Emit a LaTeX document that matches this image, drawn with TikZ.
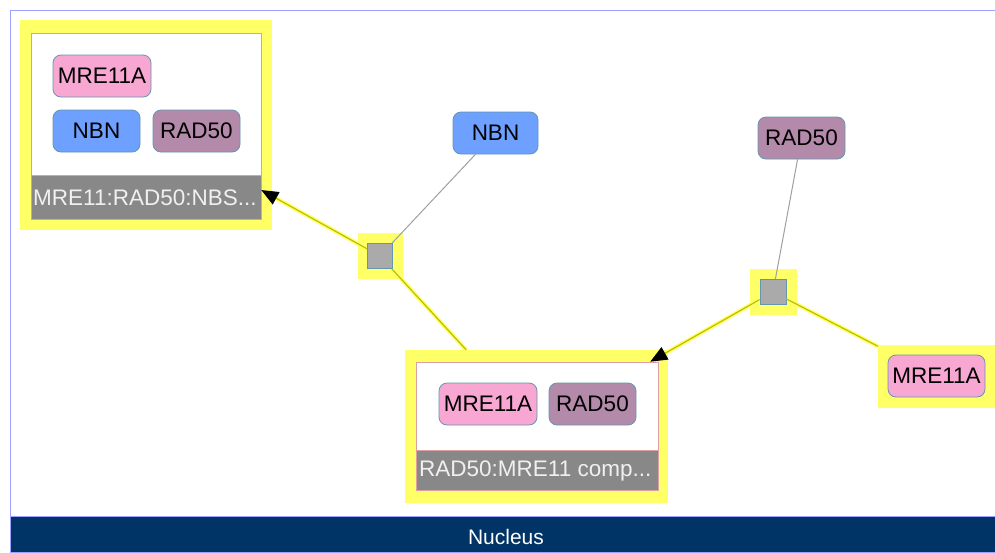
\documentclass[tikz,border=0pt]{standalone}
\usepackage{fontspec}
\setmainfont{Liberation Sans}
\usetikzlibrary{arrows.meta}
\pgfdeclarelayer{bg}
\pgfdeclarelayer{glowl}
\pgfsetlayers{bg,glowl,main}
\definecolor{hl}{RGB}{255,255,102}
\definecolor{olive}{RGB}{190,190,0}
\definecolor{pinkN}{RGB}{248,166,210}
\definecolor{blueN}{RGB}{110,160,255}
\definecolor{purpN}{RGB}{180,138,170}
\definecolor{edgeN}{RGB}{100,150,175}
\definecolor{bandG}{RGB}{136,136,136}
\definecolor{procG}{RGB}{170,170,170}
\definecolor{frameB}{RGB}{160,160,255}
\definecolor{navy}{RGB}{0,51,102}
\definecolor{cplxB}{RGB}{220,160,160}
\definecolor{linkG}{RGB}{160,160,160}
\tikzset{
  x=1pt,y=-1pt,
  prot/.style={draw=edgeN, line width=0.8pt, rounded corners=8pt, minimum height=42pt, inner sep=0pt, font=\fontsize{22.5}{26}\selectfont, text=black},
  hlbox/.style={fill=hl, draw=none, inner sep=0pt},
  cin/.style={fill=white, draw=cplxB, line width=0.6pt, inner sep=0pt},
  band/.style={fill=bandG, draw=cplxB, line width=0.6pt, inner sep=0pt},
  blabel/.style={text=white!94!black, font=\fontsize{22.5}{26}\selectfont, inner sep=0pt, anchor=west},
  proc/.style={fill=procG, draw=edgeN, line width=0.8pt, inner sep=0pt},
  glow/.style={draw=hl, line width=4pt},
  yline/.style={draw=olive, line width=1.2pt},
  gline/.style={draw=linkG, line width=1pt},
  tip/.style={-{Triangle[length=17pt,width=14pt,color=black,fill=black]}}
}
\begin{document}
\begin{tikzpicture}
\useasboundingbox (0,0) rectangle (995,552);
\begin{pgfonlayer}{bg}
\fill[white] (0,0) rectangle (995,552);
% outer compartment
\draw[frameB, line width=1pt] (995,10) -- (10,10) -- (10,517);
\node[fill=navy, draw=frameB, line width=0.8pt, minimum width=985pt, minimum height=36pt, inner sep=0pt, anchor=north west] (nucleus) at (10,516) {};
% highlights
\node[hlbox, minimum width=252pt, minimum height=210pt] (c1hl) at (146,125) {};
\node[hlbox, minimum width=263pt, minimum height=153pt] (c2hl) at (536.5,426.5) {};
\node[hlbox, minimum width=117pt, minimum height=63pt] (mrehl) at (936.5,376.5) {};
\node[hlbox, minimum width=45pt, minimum height=46pt] (p1hl) at (380,256) {};
\node[hlbox, minimum width=47pt, minimum height=46pt] (p2hl) at (773,292) {};
\end{pgfonlayer}
\node[text=white, font=\fontsize{21}{25}\selectfont] (nuclabel) at (506,537) {Nucleus};

% complex 1
\node[cin, minimum width=230pt, minimum height=186pt] (c1in) at (146,126) {};
\node[band, minimum width=230pt, minimum height=44pt] (c1band) at (146,197) {};
\node[blabel] (c1label) at (33,198) {MRE11:RAD50:NBS...};
\node[prot, fill=pinkN, minimum width=98pt] (c1mre) at (102,76) {MRE11A};
\node[prot, fill=blueN, minimum width=87pt] (c1nbn) at (96.5,131) {NBN};
\node[prot, fill=purpN, minimum width=87pt] (c1rad) at (196.5,131) {RAD50};

% complex 2
\node[cin, minimum width=242pt, minimum height=128pt] (c2in) at (537,426) {};
\node[band, minimum width=242pt, minimum height=40pt] (c2band) at (537,470) {};
\node[blabel] (c2label) at (419,471) {RAD50:MRE11 comp...};
\node[prot, fill=pinkN, minimum width=98pt] (c2mre) at (488,404) {MRE11A};
\node[prot, fill=purpN, minimum width=87pt] (c2rad) at (592.5,404) {RAD50};

% free proteins
\node[prot, fill=blueN, minimum width=85pt] (nbn) at (495.5,133) {NBN};
\node[prot, fill=purpN, minimum width=87pt] (rad) at (801.5,138) {RAD50};
\node[prot, fill=pinkN, minimum width=97pt] (mre) at (936.5,376) {MRE11A};

% process nodes
\node[proc, minimum width=25pt, minimum height=25pt] (p1) at (380,256) {};
\node[proc, minimum width=26pt, minimum height=25pt] (p2) at (773,292) {};

% connectors
\begin{pgfonlayer}{glowl}
\path[glow] (p1) -- (c1in);
\path[glow] (p1) -- (c2hl);
\path[glow] (p2) -- (c2in);
\path[glow] (p2) -- (mrehl);
\end{pgfonlayer}
\path[yline] (p1) -- (c2hl);
\path[yline] (p2) -- (mrehl);
\draw[yline, tip] (p1) -- (c1in);
\draw[yline, tip] (p2) -- (c2in);
\path[gline] (nbn) -- (p1);
\path[gline] (rad) -- (p2);
\end{tikzpicture}
\end{document}
